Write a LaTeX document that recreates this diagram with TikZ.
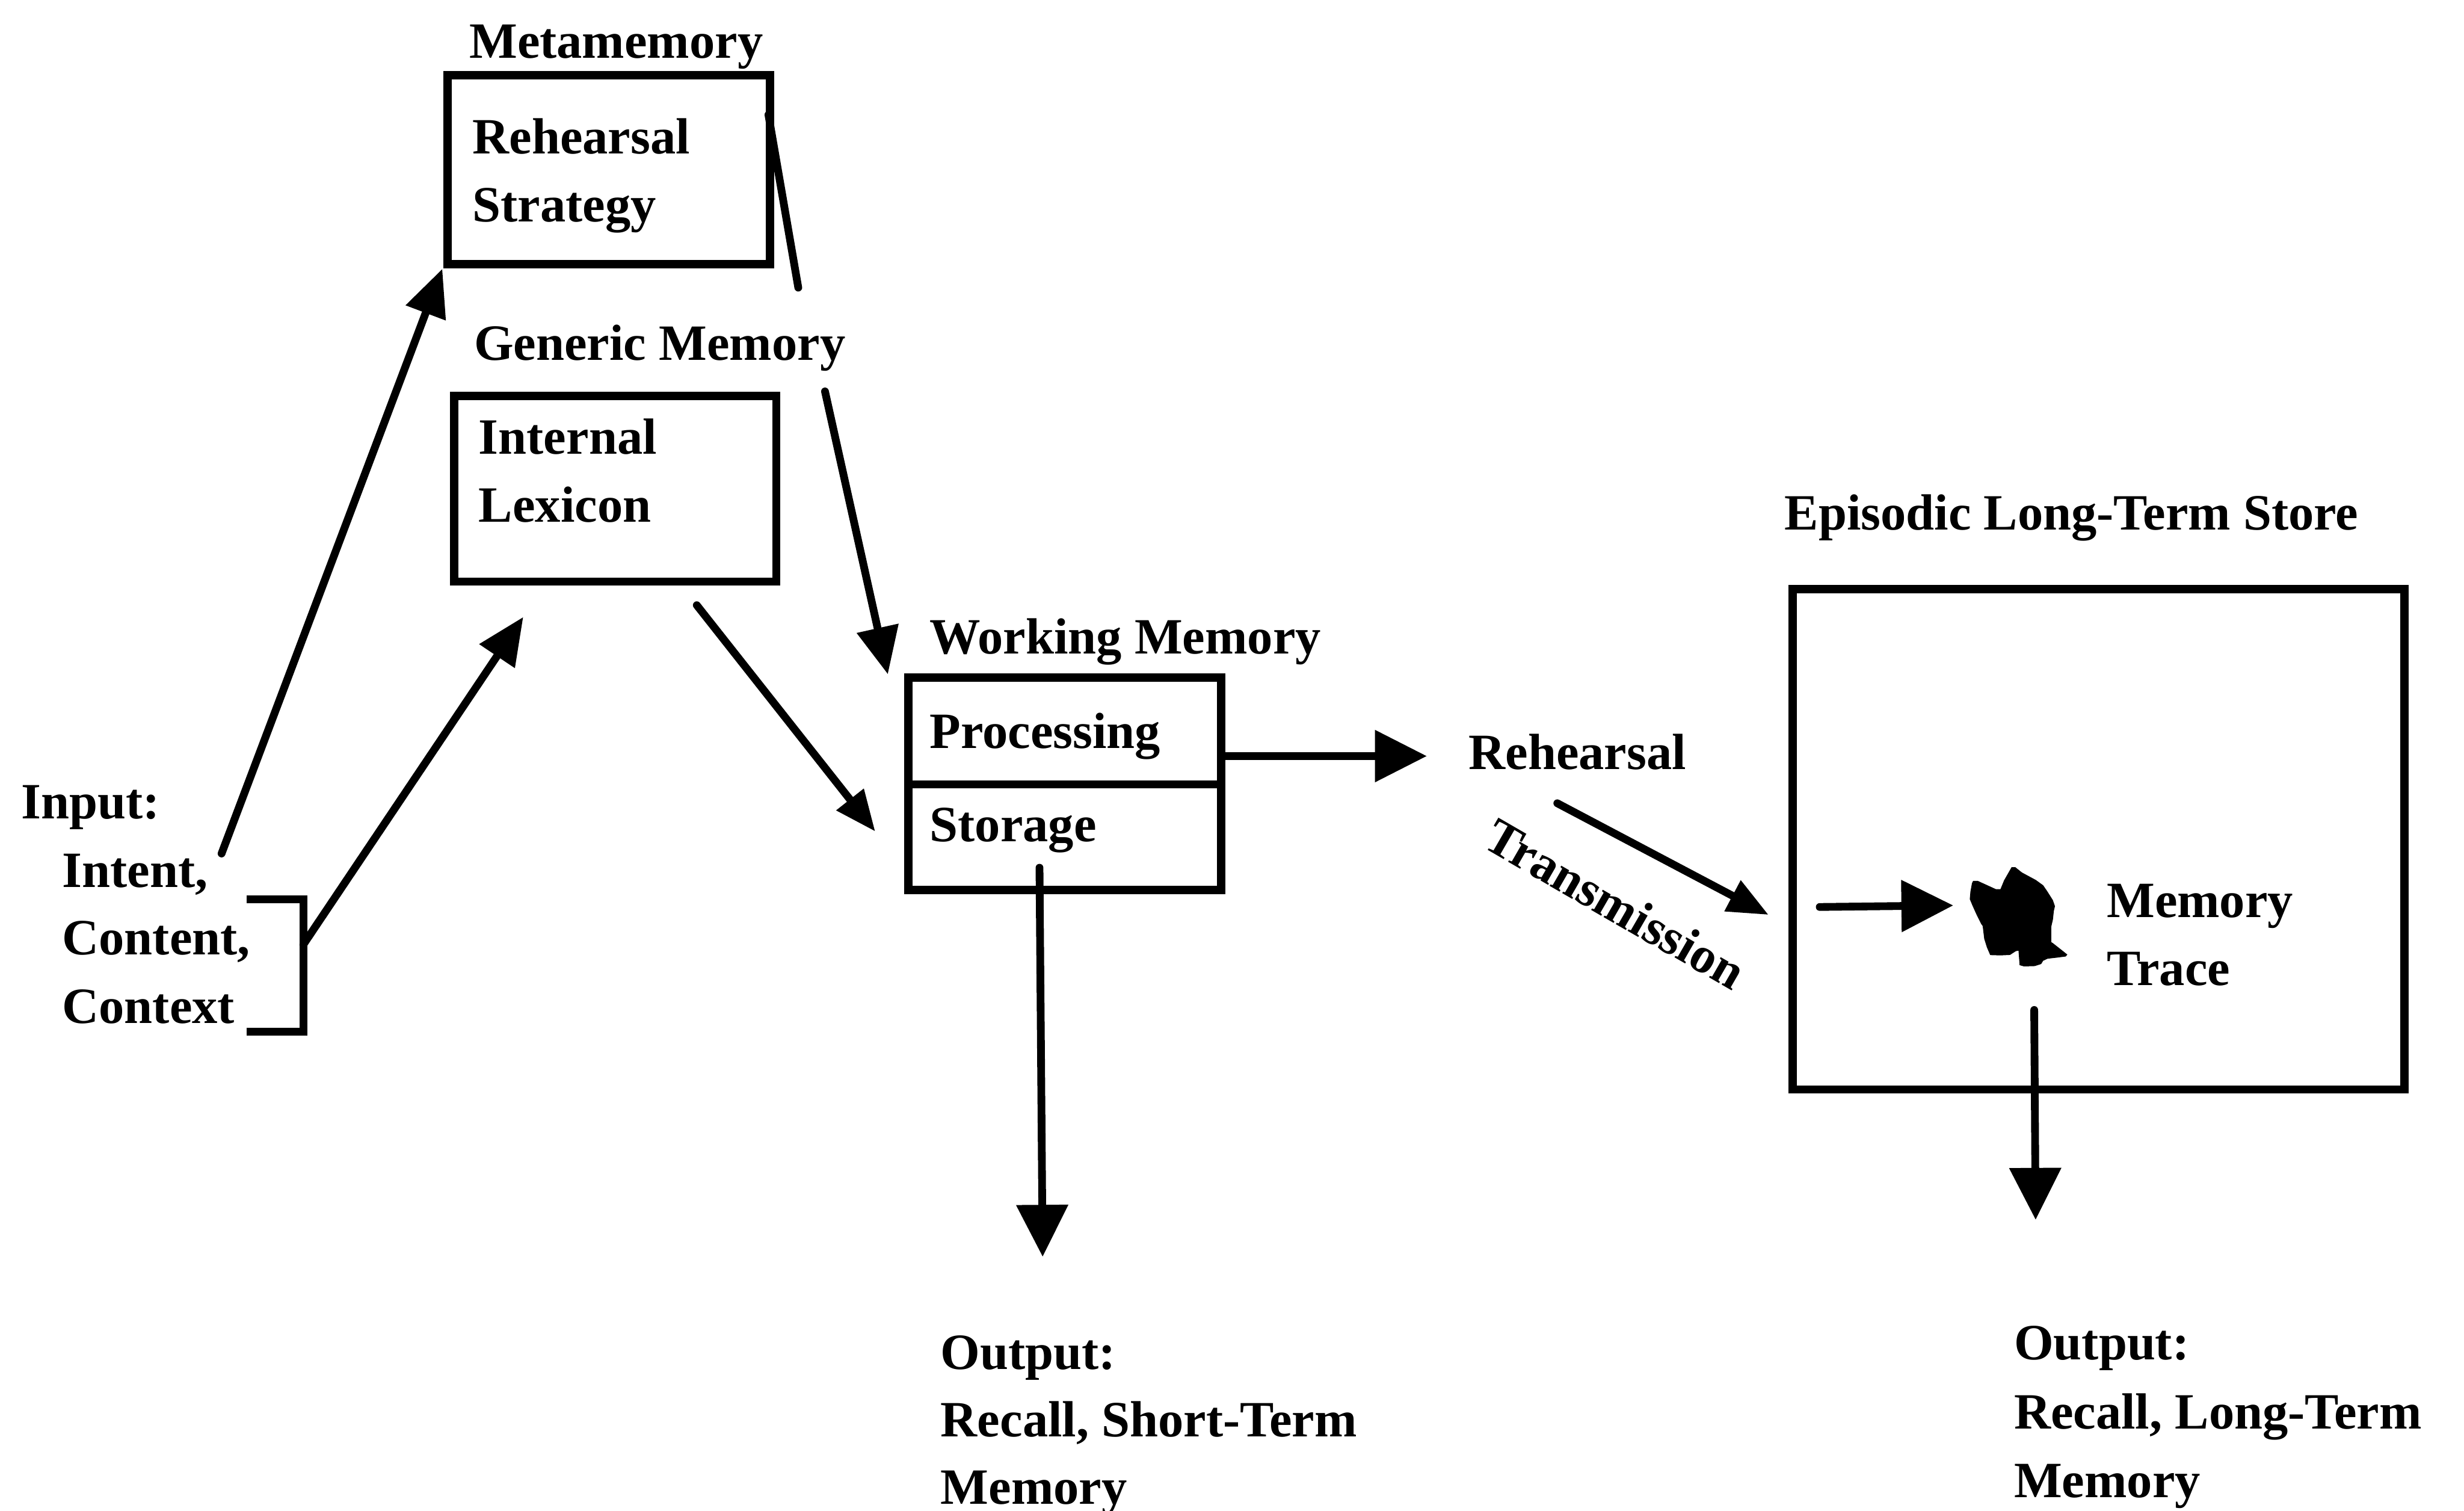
\documentclass[tikz,border=0pt]{standalone}
\usepackage{fontspec}
\setmainfont{Liberation Serif}
\usetikzlibrary{arrows.meta}
\begin{document}
\begin{tikzpicture}[x=0.01cm,y=-0.01cm,
  box/.style={draw, line width=1.5pt, inner sep=0pt},
  lbl/.style={anchor=base west, inner sep=0pt, font=\fontsize{9.2}{12.2}\selectfont\bfseries},
  conn/.style={line width=1.4pt, line cap=round},
  arrL/.style={conn, -{Triangle[length=0.33cm,width=0.32cm]}},
  arrM/.style={conn, -{Triangle[length=0.30cm,width=0.26cm]}},
  arrS/.style={conn, -{Triangle[length=0.26cm,width=0.21cm]}},
]
\useasboundingbox (0,0) rectangle (1568,961);

% ---- boxes ----
\node[box, minimum width=2.05cm, minimum height=1.20cm] (rs) at (387.5,108) {};
\node[box, minimum width=2.05cm, minimum height=1.18cm] (il) at (391.5,311) {};
\node[box, minimum width=1.99cm, minimum height=1.35cm] (wm) at (677.5,498.5) {};
\node[box, minimum width=3.89cm, minimum height=3.18cm] (lt) at (1335.5,534) {};
\coordinate (wmdiv) at (0,499);
\draw[line width=1.5pt] (wm.west |- wmdiv) -- (wm.east |- wmdiv);

% ---- labels ----
\node[lbl] (t-meta) at (298,37) {Metamemory};
\node[lbl] (t-reh1) at (300,98) {Rehearsal};
\node[lbl] (t-reh2) at (300,141) {Strategy};
\node[lbl] (t-gen) at (301,229) {Generic Memory};
\node[lbl] (t-int) at (304,289) {Internal};
\node[lbl] (t-lex) at (304,332) {Lexicon};
\node[lbl] (t-in) at (13,521) {Input:};
\node[lbl] (t-intent) at (39,564.5) {Intent,};
\node[lbl] (t-content) at (39,607.5) {Content,};
\node[lbl] (t-context) at (39,651) {Context};
\node[lbl] (t-wm) at (591,416) {Working Memory};
\node[lbl] (t-proc) at (591,476) {Processing};
\node[lbl] (t-stor) at (591,535.5) {Storage};
\node[lbl] (t-rh) at (934,489.5) {Rehearsal};
\node[lbl, rotate=-30] (t-tr) at (942,538) {Transmission};
\node[lbl] (t-ep) at (1135,337) {Episodic Long-Term Store};
\node[lbl] (t-mem) at (1340,583.5) {Memory};
\node[lbl] (t-trace) at (1340,627) {Trace};
\node[lbl] (t-o1) at (598,871) {Output:};
\node[lbl] (t-o1b) at (598,914) {Recall, Short-Term};
\node[lbl] (t-o1c) at (598,957) {Memory};
\node[lbl] (t-o2) at (1281,865) {Output:};
\node[lbl] (t-o2b) at (1281,909) {Recall, Long-Term};
\node[lbl] (t-o2c) at (1281,952.5) {Memory};

% ---- memory trace blob ----
\fill (1255.6,560.4) -- (1258.6,560.4) -- (1270.2,565.7) -- (1273.0,565.7)
  -- (1275.3,560.1) -- (1280.1,551.7) -- (1282.5,551.7) -- (1286.6,555.0)
  -- (1295.5,559.8) -- (1300.2,563.2) -- (1303.0,567.3) -- (1306.4,572.7)
  -- (1307.7,576.5) -- (1307.0,579.5) -- (1306.4,585.0) -- (1305.3,589.8)
  -- (1305.3,599.3) -- (1306.4,600.0) -- (1312.5,604.8) -- (1315.6,607.3)
  -- (1314.5,608.5) -- (1309.1,609.2) -- (1303.0,609.9) -- (1300.2,611.2)
  -- (1298.9,613.3) -- (1294.8,614.6) -- (1288.0,614.8) -- (1285.2,614.0)
  -- (1284.5,604.8) -- (1282.8,605.1) -- (1279.1,607.5) -- (1273.0,607.8)
  -- (1266.5,607.6) -- (1264.4,602.7) -- (1262.7,597.3) -- (1261.7,589.1)
  -- (1260.7,587.7) -- (1258.0,582.3) -- (1255.2,576.1) -- (1253.5,572.0)
  -- (1253.9,567.3) -- (1254.9,561.8) -- cycle;

% ---- connector end points ----
\coordinate (br-t) at (157,572);
\coordinate (br-tr) at (193,572);
\coordinate (br-br) at (193,656.5);
\coordinate (br-b) at (157,656.5);
\coordinate (br-out) at (193,601);
\coordinate (in-out) at (141,543);
\coordinate (rs-in) at (281.5,171);
\coordinate (il-in) at (333,392.5);
\coordinate (rs-out) at (489,73);
\coordinate (gap-a) at (508,183);
\coordinate (gap-b) at (525,249);
\coordinate (wm-in1) at (565,429);
\coordinate (il-out) at (443.4,385);
\coordinate (wm-in2) at (557,529);
\coordinate (proc-out) at (777,481);
\coordinate (rh-in) at (908,481);
\coordinate (tr-a) at (991,511);
\coordinate (lt-in) at (1125.5,582);
\coordinate (tr-in-a) at (1158,577);
\coordinate (trace-in) at (1243,576);
\coordinate (stor-out) at (661.5,552);
\coordinate (out1) at (663.5,799.5);
\coordinate (trace-out) at (1294.5,642.5);
\coordinate (out2) at (1295.4,776);

% ---- connectors ----
\draw[conn, line cap=butt] (br-t) -- (br-tr) -- (br-br) -- (br-b);
\draw[arrM] (in-out) -- (rs-in);
\draw[arrM] (br-out) -- (il-in);
\draw[conn] (rs-out) -- (gap-a);
\draw[arrM] (gap-b) -- (wm-in1);
\draw[arrS] (il-out) -- (wm-in2);
\draw[arrL] (proc-out) -- (rh-in);
\draw[arrS] (tr-a) -- (lt-in);
\draw[arrL] (tr-in-a) -- (trace-in);
\draw[arrL] (stor-out) -- (out1);
\draw[arrL] (trace-out) -- (out2);
\end{tikzpicture}
\end{document}
